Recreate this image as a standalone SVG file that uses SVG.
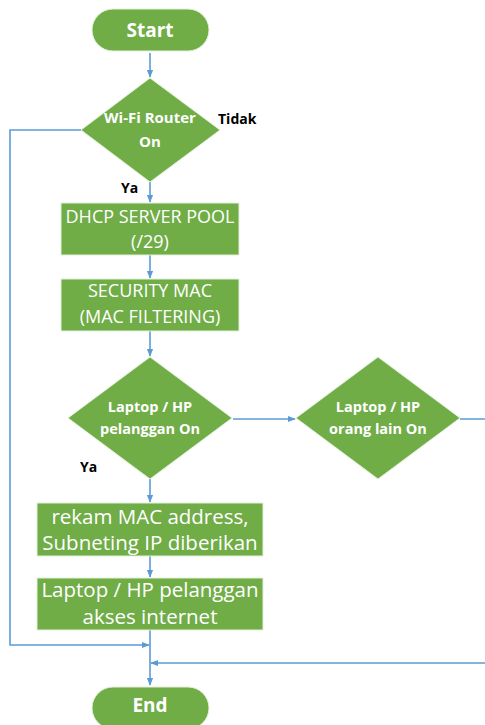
<svg xmlns="http://www.w3.org/2000/svg" width="485" height="725" viewBox="0 0 485 725">
  <defs>
    <marker id="arrow" viewBox="0 0 10 10" refX="9" refY="5" markerWidth="5" markerHeight="5" orient="auto-start-reverse">
      <path d="M0,1 L10,5 L0,9 z" fill="#5B9BD5"/>
    </marker>
    <style>
      .shape { fill: #70AD47; stroke: #E2EFD9; stroke-width: 1; }
      .conn { fill: none; stroke: #5B9BD5; stroke-width: 1.6; }
      .lbl { fill: #FFFFFF; font-family: "Open Sans", "Liberation Sans", sans-serif; text-anchor: middle; }
      .bold { font-weight: bold; }
      .note { fill: #000000; font-family: "Open Sans", "Liberation Sans", sans-serif; font-weight: bold; font-size: 14px; }
    </style>
  </defs>

  <!-- connectors -->
  <g id="connectors">
    <path class="conn" d="M150,53 V77" marker-end="url(#arrow)"/>
    <path class="conn" d="M150,182 V202" marker-end="url(#arrow)"/>
    <path class="conn" d="M150,255 V278" marker-end="url(#arrow)"/>
    <path class="conn" d="M150,331 V356" marker-end="url(#arrow)"/>
    <path class="conn" d="M233,419 H295" marker-end="url(#arrow)"/>
    <path class="conn" d="M150,479 V502" marker-end="url(#arrow)"/>
    <path class="conn" d="M150,556 V577" marker-end="url(#arrow)"/>
    <path class="conn" d="M150,630 V685" marker-end="url(#arrow)"/>
    <path class="conn" d="M81,130 H10 V645 H149" marker-end="url(#arrow)"/>
    <path class="conn" d="M460,419 H492 V663 H151" marker-end="url(#arrow)"/>
  </g>

  <g id="start">
    <rect class="shape" x="92" y="9" width="117" height="42" rx="21"/>
    <text class="lbl bold" x="150" y="37" font-size="19">Start</text>
  </g>

  <g id="router-on">
    <polygon class="shape" points="150,78 220,130 150,182 81,130"/>
    <text class="lbl bold" x="150" y="123" font-size="15">Wi-Fi Router</text>
    <text class="lbl bold" x="150" y="147" font-size="15">On</text>
  </g>
  <text class="note" x="218" y="124">Tidak</text>
  <text class="note" x="121" y="193">Ya</text>

  <g id="dhcp-pool">
    <rect class="shape" x="61" y="203" width="178" height="52"/>
    <text class="lbl" x="150" y="223" font-size="18">DHCP SERVER POOL</text>
    <text class="lbl" x="150" y="248" font-size="18">(/29)</text>
  </g>

  <g id="security-mac">
    <rect class="shape" x="61" y="279" width="178" height="52"/>
    <text class="lbl" x="150" y="297" font-size="18">SECURITY MAC</text>
    <text class="lbl" x="150" y="323" font-size="18">(MAC FILTERING)</text>
  </g>

  <g id="client-on">
    <polygon class="shape" points="150,357 232,418 150,479 68,418"/>
    <text class="lbl bold" x="150" y="412" font-size="14.5">Laptop / HP</text>
    <text class="lbl bold" x="150" y="434" font-size="14.5">pelanggan On</text>
  </g>
  <text class="note" x="80" y="472">Ya</text>

  <g id="other-on">
    <polygon class="shape" points="378,357 460,418 378,479 296,418"/>
    <text class="lbl bold" x="378" y="412" font-size="14.5">Laptop / HP</text>
    <text class="lbl bold" x="378" y="434" font-size="14.5">orang lain On</text>
  </g>

  <g id="record-mac">
    <rect class="shape" x="37" y="503" width="226" height="53"/>
    <text class="lbl" x="150" y="524" font-size="20.5">rekam MAC address,</text>
    <text class="lbl" x="150" y="550" font-size="20.5">Subneting IP diberikan</text>
  </g>

  <g id="internet-access">
    <rect class="shape" x="37" y="578" width="226" height="52"/>
    <text class="lbl" x="150" y="597" font-size="20.5">Laptop / HP pelanggan</text>
    <text class="lbl" x="150" y="624" font-size="20.5">akses internet</text>
  </g>

  <g id="end">
    <rect class="shape" x="92" y="687" width="117" height="42" rx="21"/>
    <text class="lbl bold" x="150" y="712" font-size="19">End</text>
  </g>
</svg>
